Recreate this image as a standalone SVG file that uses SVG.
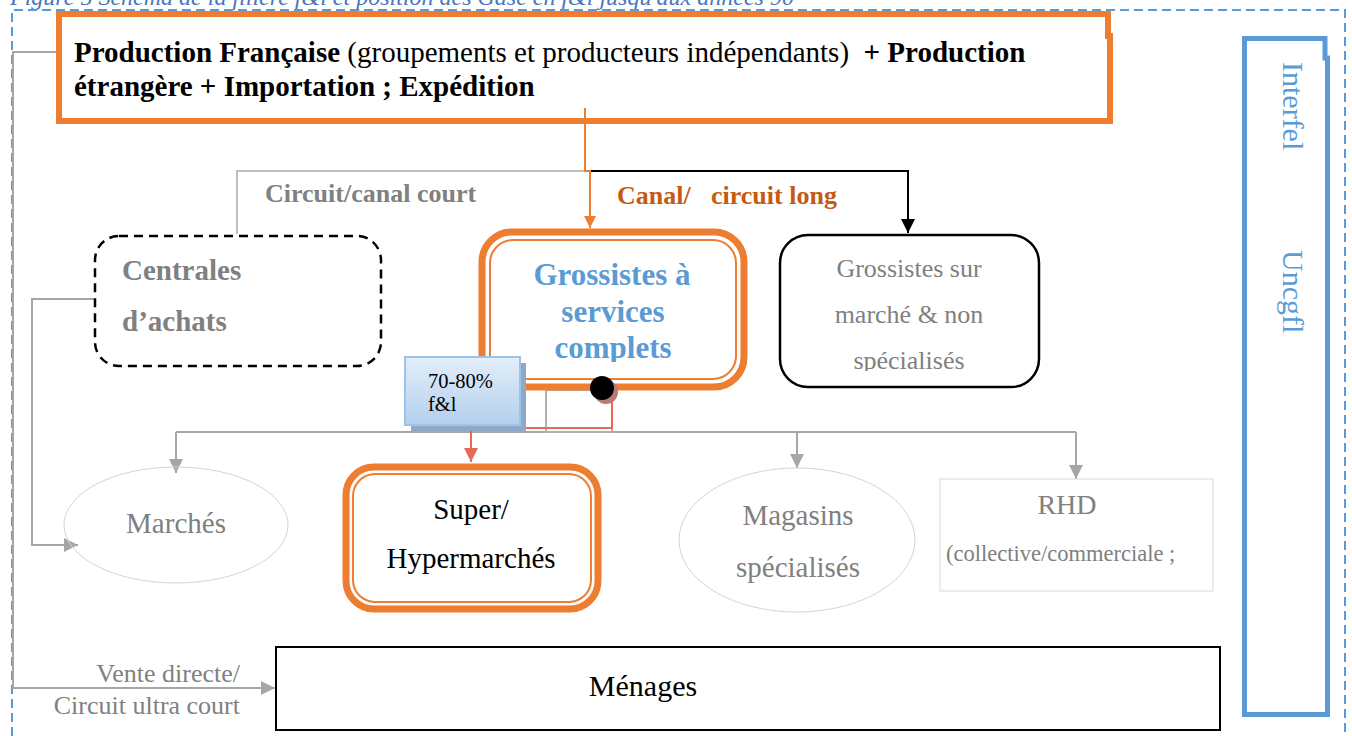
<svg xmlns="http://www.w3.org/2000/svg" width="1352" height="736" viewBox="0 0 1352 736">
<style>
text{font-family:"Liberation Serif","Times New Roman",serif}
.b{font-weight:bold}
.gray{fill:#808080}
.orangeBox{fill:none;stroke:#ed7d31}
.gl{fill:none;stroke:#a6a6a6;stroke-width:2}
.frame{fill:none;stroke:#5b9bd5;stroke-width:2;stroke-dasharray:9 5}
</style>
<defs>
<marker id="ag" viewBox="0 0 14 14" refX="14" refY="7" markerWidth="14" markerHeight="14" markerUnits="userSpaceOnUse" orient="auto"><path d="M0,0 L14,7 L0,14 Z" fill="#a6a6a6"/></marker>
<marker id="ab" viewBox="0 0 14 14" refX="14" refY="7" markerWidth="14" markerHeight="14" markerUnits="userSpaceOnUse" orient="auto"><path d="M0,0 L14,7 L0,14 Z" fill="#000"/></marker>
<marker id="ao" viewBox="0 0 12 12" refX="12" refY="6" markerWidth="12" markerHeight="12" markerUnits="userSpaceOnUse" orient="auto"><path d="M0,0 L12,6 L0,12 Z" fill="#ed7d31"/></marker>
<marker id="ar" viewBox="0 0 14 14" refX="14" refY="7" markerWidth="14" markerHeight="14" markerUnits="userSpaceOnUse" orient="auto"><path d="M0,0 L14,7 L0,14 Z" fill="#e8685a"/></marker>
<linearGradient id="gb" x1="0" y1="0" x2="0" y2="1"><stop offset="0" stop-color="#e3eefa"/><stop offset="1" stop-color="#b3cfec"/></linearGradient>
<clipPath id="c1"><rect x="480" y="230" width="270" height="132"/></clipPath>
<clipPath id="c2"><rect x="780" y="235" width="260" height="136"/></clipPath>
</defs>

<text x="10" y="5" font-size="24" font-style="italic" fill="#4a76c0">Figure 5 Schéma de la filière f&amp;l et position des Gase en f&amp;l jusqu'aux années 90</text>
<path class="frame" d="M12,736 V10 H1345 V736"/>

<g id="connectors">
<path class="gl" d="M57,52 H13 V688 H275" marker-end="url(#ag)"/>
<path fill="none" stroke="#bfbfbf" stroke-width="2" d="M585,171 H237 V234"/>
<path fill="none" stroke="#000" stroke-width="2" d="M590,171 H908 V233" marker-end="url(#ab)"/>
<path fill="none" stroke="#ed7d31" stroke-width="2" d="M585,108 V171 H590 V228" marker-end="url(#ao)"/>
<path class="gl" d="M94,299 H32 V545 H78" marker-end="url(#ag)"/>
<path class="gl" d="M176,432 H1076"/>
<path class="gl" d="M176,432 V473" marker-end="url(#ag)"/>
<path class="gl" d="M797,432 V468" marker-end="url(#ag)"/>
<path class="gl" d="M1076,432 V479" marker-end="url(#ag)"/>
<rect x="546" y="390" width="66" height="42" fill="none" stroke="#b0b0b0" stroke-width="2"/>
<path fill="none" stroke="#e8685a" stroke-width="2" d="M612,393 V428 H471 V462" marker-end="url(#ar)"/>
</g>

<g id="production">
<path class="orangeBox" stroke-width="6" d="M59,14 H1108 V36 H1110 V121 H59 Z"/>
<text x="74" y="62" font-size="29" xml:space="preserve"><tspan class="b">Production Française</tspan> (groupements et producteurs indépendants)  <tspan class="b">+ Production</tspan></text>
<text x="74" y="96" font-size="29" class="b">étrangère + Importation ; Expédition</text>
</g>

<g id="label-court"><text x="265" y="202" font-size="26" class="b gray">Circuit/canal court</text></g>
<g id="label-long"><text y="204" font-size="26" class="b" fill="#c55a11"><tspan x="617">Canal/</tspan><tspan x="711">circuit long</tspan></text></g>

<g id="centrales">
<rect x="95" y="236" width="286" height="130" rx="24" fill="none" stroke="#000" stroke-width="2.5" stroke-dasharray="9 6"/>
<text x="122" y="280" font-size="29" class="b gray">Centrales</text>
<text x="122" y="331" font-size="29" class="b gray">d’achats</text>
</g>

<g id="grossistes-complets">
<rect class="orangeBox" x="482" y="232" width="262" height="155" rx="30" stroke-width="7"/>
<rect class="orangeBox" x="490" y="240" width="246" height="139" rx="23" stroke-width="2"/>
<g clip-path="url(#c1)" font-size="31" class="b" fill="#5b9bd5" text-anchor="middle">
<text x="612" y="285">Grossistes à</text>
<text x="613" y="322">services</text>
<text x="613" y="358">complets</text>
</g>
</g>

<g id="grossistes-marche">
<rect x="780" y="235" width="259" height="152" rx="28" fill="none" stroke="#000" stroke-width="2.5"/>
<g clip-path="url(#c2)" font-size="26" class="gray" text-anchor="middle">
<text x="909" y="277">Grossistes sur</text>
<text x="909" y="323">marché &amp; non</text>
<text x="909" y="369">spécialisés</text>
</g>
</g>

<g id="pct">
<rect x="411" y="363" width="115" height="68" fill="#8ea9c8"/>
<rect x="405" y="357" width="115" height="68" fill="url(#gb)" stroke="#9dc3e6" stroke-width="2"/>
<text x="428" y="388" font-size="20.5" fill="#000">70-80%</text>
<text x="428" y="411" font-size="20.5" fill="#000">f&amp;l</text>
</g>

<g id="dot">
<circle cx="606" cy="392" r="12" fill="#b57b74"/>
<circle cx="602" cy="388" r="12" fill="#000"/>
</g>

<g id="marches">
<ellipse cx="176" cy="525" rx="112" ry="58" fill="none" stroke="#d4d4d4" stroke-width="1"/>
<text x="176" y="533" font-size="29" class="gray" text-anchor="middle">Marchés</text>
</g>

<g id="super">
<rect class="orangeBox" x="346" y="467" width="252" height="142" rx="28" stroke-width="7"/>
<rect class="orangeBox" x="353" y="474" width="238" height="128" rx="22" stroke-width="2"/>
<text x="471" y="519" font-size="29" text-anchor="middle" fill="#000">Super/</text>
<text x="471" y="568" font-size="29" text-anchor="middle" fill="#000">Hypermarchés</text>
</g>

<g id="magasins">
<ellipse cx="797" cy="540" rx="118" ry="72" fill="none" stroke="#d4d4d4" stroke-width="1"/>
<text x="798" y="525" font-size="29" class="gray" text-anchor="middle">Magasins</text>
<text x="798" y="577" font-size="29" class="gray" text-anchor="middle">spécialisés</text>
</g>

<g id="rhd">
<rect x="940" y="479" width="273" height="112" fill="none" stroke="#d9d9d9" stroke-width="1"/>
<text x="1067" y="514" font-size="28" class="gray" text-anchor="middle">RHD</text>
<text x="946" y="561" font-size="22.5" class="gray">(collective/commerciale ;</text>
</g>

<g id="menages">
<rect x="276" y="647" width="944" height="83" fill="none" stroke="#000" stroke-width="2"/>
<text x="643" y="696" font-size="30" text-anchor="middle" fill="#000">Ménages</text>
</g>

<g id="label-vente">
<text x="240" y="682" font-size="26" class="gray" text-anchor="end">Vente directe/</text>
<text x="240" y="714" font-size="26" class="gray" text-anchor="end">Circuit ultra court</text>
</g>

<g id="interprofession">
<path fill="none" stroke="#5b9bd5" stroke-width="5" d="M1244.5,38.5 H1325 V58 H1327.5 V714.5 H1244.5 Z"/>
<text transform="translate(1283,62) rotate(90)" font-size="30" fill="#5b9bd5">Interfel</text>
<text transform="translate(1283,250) rotate(90)" font-size="30" fill="#5b9bd5">Uncgfl</text>
</g>
</svg>
